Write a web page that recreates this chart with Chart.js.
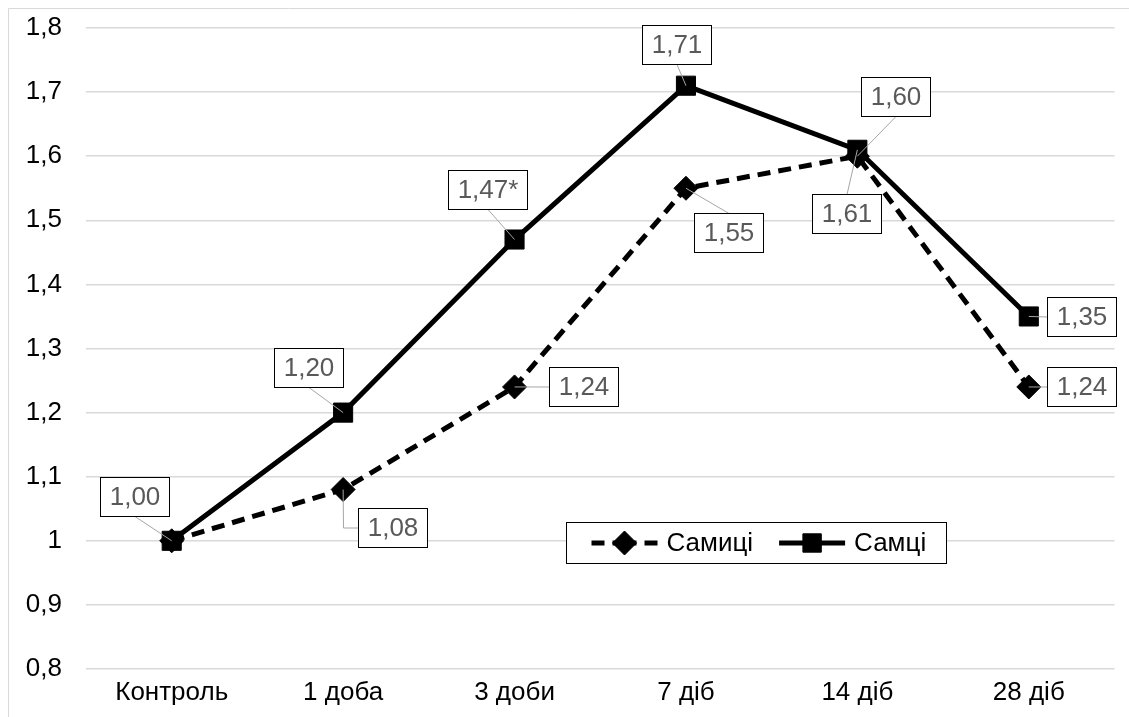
<!DOCTYPE html>
<html>
<head>
<meta charset="utf-8">
<script src="https://cdn.jsdelivr.net/npm/chart.js@4/dist/chart.umd.min.js"></script>
<style>
  html, body { margin: 0; padding: 0; background: #fff; }
  #wrap { width: 1129px; height: 717px; position: relative; }
</style>
</head>
<body>
<div id="wrap"><canvas id="chart" width="1129" height="717"></canvas></div>
<script>
// Time points after exposure
const categories = ['Контроль', '1 доба', '3 доби', '7 діб', '14 діб', '28 діб'];

// Relative index values for each group
const femaleName = 'Самиці';
const femaleValues = [1.00, 1.08, 1.24, 1.55, 1.60, 1.24];
const maleName = 'Самці';
const maleValues = [1.00, 1.20, 1.47, 1.71, 1.61, 1.35];

// Significance marks appended to the value labels
const femaleMarks = ['', '', '', '', '', ''];
const maleMarks = ['', '', '*', '', '', ''];

// Value axis ticks
const yTicks = [0.8, 0.9, 1.0, 1.1, 1.2, 1.3, 1.4, 1.5, 1.6, 1.7, 1.8];

const FONT = '"Liberation Sans", Arial, Helvetica, sans-serif';
const FONT_SIZE = 26;

function fmt(v, digits) {
  return v.toFixed(digits).replace('.', ',');
}
function fmtTick(v) {
  return String(Number(v.toFixed(1))).replace('.', ',');
}

// Label boxes: offset of the box centre from its point and the side the leader enters
const labelPlacement = [
  // Самиці
  [null,
   { dx: 49, dy: 38, side: 'l' },
   { dx: 69, dy: 0, side: 'l' },
   { dx: 43, dy: 44, side: 't' },
   { dx: 38, dy: -60, side: 'b' },
   { dx: 53, dy: 0, side: 'l' }],
  // Самці
  [{ dx: -37, dy: -44, side: 'b' },
   { dx: -35, dy: -45, side: 'b' },
   { dx: -27, dy: -50, side: 'b' },
   { dx: -9, dy: -41, side: 'b' },
   { dx: -11, dy: 64, side: 't' },
   { dx: 53, dy: 0, side: 'l' }]
];

// Light frame around the whole figure
const framePlugin = {
  id: 'frame',
  beforeDraw(chart) {
    const ctx = chart.ctx;
    ctx.save();
    ctx.fillStyle = '#fff';
    ctx.fillRect(0, 0, chart.width, chart.height);
    ctx.strokeStyle = '#d9d9d9';
    ctx.lineWidth = 1;
    ctx.beginPath();
    ctx.moveTo(8.5, chart.height);
    ctx.lineTo(8.5, 8.5);
    ctx.lineTo(chart.width, 8.5);
    ctx.stroke();
    ctx.restore();
  }
};

// Boxed value labels with leader lines
const valueLabels = {
  id: 'valueLabels',
  afterDatasetsDraw(chart) {
    const ctx = chart.ctx;
    ctx.save();
    ctx.font = FONT_SIZE + 'px ' + FONT;
    chart.data.datasets.forEach((ds, di) => {
      const meta = chart.getDatasetMeta(di);
      const place = labelPlacement[di];
      meta.data.forEach((pt, i) => {
        const p = place[i];
        if (!p) return;
        const text = fmt(ds.data[i], 2) + (ds.marks[i] || '');
        const w = Math.round(ctx.measureText(text).width + 18);
        const h = 39;
        const cx = pt.x + p.dx, cy = pt.y + p.dy;
        const x0 = Math.round(cx - w / 2) + 0.5;
        const y0 = Math.round(cy - h / 2) + 0.5;
        let ax, ay;
        if (p.side === 'b') { ax = x0 + w / 2; ay = y0 + h; }
        else if (p.side === 't') { ax = x0 + w / 2; ay = y0; }
        else { ax = x0; ay = y0 + h / 2; }
        ctx.strokeStyle = '#a6a6a6';
        ctx.lineWidth = 1;
        ctx.beginPath();
        ctx.moveTo(pt.x, pt.y);
        if (p.side === 'l' && Math.abs(pt.y - ay) > 1) ctx.lineTo(Math.round(pt.x) + 0.5, ay);
        ctx.lineTo(ax, ay);
        ctx.stroke();
        ctx.fillStyle = '#fff';
        ctx.fillRect(x0, y0, w, h);
        ctx.strokeStyle = '#000';
        ctx.strokeRect(x0, y0, w, h);
        ctx.fillStyle = '#595959';
        ctx.textAlign = 'center';
        ctx.textBaseline = 'middle';
        ctx.fillText(text, x0 + w / 2, y0 + h / 2 + 1);
      });
    });
    ctx.restore();
  }
};

// Boxed legend placed inside the plot area
const boxedLegend = {
  id: 'boxedLegend',
  afterDraw(chart) {
    const ctx = chart.ctx;
    const area = chart.chartArea;
    const left = area.left + 480.5, top = 522.5, h = 41;
    const sample = 66;
    ctx.save();
    ctx.font = FONT_SIZE + 'px ' + FONT;
    let x = left + 25;
    const cy = top + h / 2;
    const items = chart.data.datasets.map(ds => ({ ds, tw: ctx.measureText(ds.label).width }));
    const parts = [];
    items.forEach((it, k) => {
      parts.push({ ds: it.ds, sx: x, tx: x + sample + 9 });
      x += sample + 9 + it.tw + (k < items.length - 1 ? 26 : 20);
    });
    const w = Math.round(x - left);
    ctx.fillStyle = '#fff';
    ctx.fillRect(left, top, w, h);
    ctx.strokeStyle = '#000';
    ctx.lineWidth = 1;
    ctx.strokeRect(left, top, w, h);
    parts.forEach(pp => {
      const ds = pp.ds;
      ctx.strokeStyle = ds.borderColor;
      ctx.lineWidth = ds.borderWidth;
      ctx.setLineDash(ds.borderDash || []);
      ctx.beginPath();
      ctx.moveTo(pp.sx, cy);
      ctx.lineTo(pp.sx + sample / 2, cy);
      ctx.stroke();
      ctx.beginPath();
      ctx.moveTo(pp.sx + sample, cy);
      ctx.lineTo(pp.sx + sample / 2, cy);
      ctx.stroke();
      ctx.setLineDash([]);
      ctx.fillStyle = ds.pointBackgroundColor;
      ctx.strokeStyle = ds.pointBorderColor;
      ctx.lineWidth = ds.pointBorderWidth;
      Chart.helpers.drawPoint(ctx, { pointStyle: ds.pointStyle, rotation: 0, borderWidth: ds.pointBorderWidth, radius: ds.legendRadius }, pp.sx + sample / 2, cy);
      ctx.fillStyle = '#000';
      ctx.textAlign = 'left';
      ctx.textBaseline = 'middle';
      ctx.fillText(ds.label, pp.tx, cy + 1);
    });
    ctx.restore();
  }
};

new Chart(document.getElementById('chart'), {
  type: 'line',
  data: {
    labels: categories,
    datasets: [
      {
        label: femaleName,
        data: femaleValues,
        marks: femaleMarks,
        order: 1,
        borderColor: '#000',
        backgroundColor: '#000',
        borderWidth: 5,
        borderDash: [13, 8],
        pointStyle: 'rectRot',
        pointRadius: 12,
        legendRadius: 12,
        pointBackgroundColor: '#000',
        pointBorderColor: '#000',
        pointBorderWidth: 1,
        tension: 0,
        fill: false
      },
      {
        label: maleName,
        data: maleValues,
        marks: maleMarks,
        order: 0,
        borderColor: '#000',
        backgroundColor: '#000',
        borderWidth: 5,
        pointStyle: 'rect',
        pointRadius: 13.5,
        legendRadius: 13,
        pointBackgroundColor: '#000',
        pointBorderColor: '#000',
        pointBorderWidth: 1,
        tension: 0,
        fill: false
      }
    ]
  },
  options: {
    responsive: false,
    animation: false,
    devicePixelRatio: 1,
    layout: { padding: { top: 28, right: 8, bottom: 0, left: 0 } },
    plugins: { legend: { display: false }, tooltip: { enabled: false } },
    scales: {
      x: {
        offset: true,
        grid: { display: false, drawTicks: false },
        border: { display: false },
        ticks: { color: '#000', font: { family: FONT, size: FONT_SIZE }, padding: 8, maxRotation: 0 },
        afterFit(s) { s.height = 48; s.paddingLeft = 0; s.paddingRight = 0; }
      },
      y: {
        min: 0.8,
        max: 1.8,
        grid: { color: '#d9d9d9', lineWidth: 1.5, drawTicks: false },
        border: { display: false },
        afterBuildTicks(s) { s.ticks = yTicks.map(v => ({ value: v })); },
        ticks: {
          color: '#000',
          font: { family: FONT, size: FONT_SIZE },
          padding: 24,
          callback: v => fmtTick(v)
        },
        afterFit(s) { s.width = 86; s.paddingTop = 0; s.paddingBottom = 0; }
      }
    }
  },
  plugins: [framePlugin, valueLabels, boxedLegend]
});
</script>
</body>
</html>
